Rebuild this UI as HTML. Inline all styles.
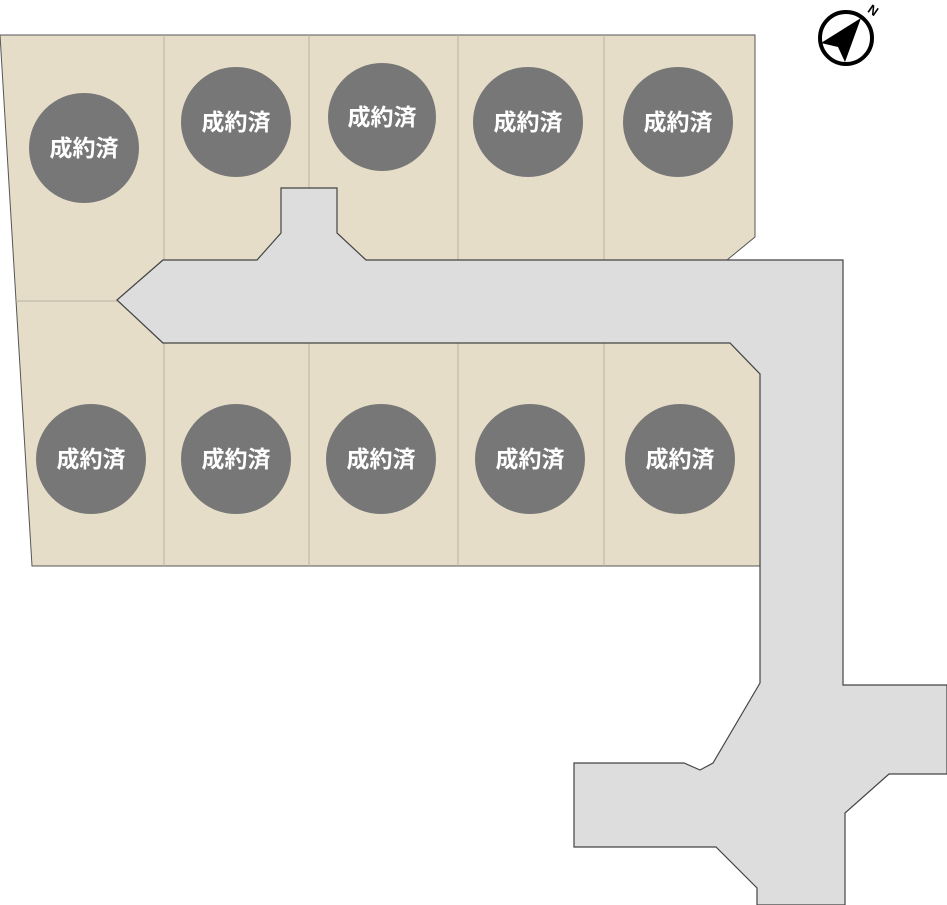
<!DOCTYPE html>
<html><head><meta charset="utf-8"><style>
html,body{margin:0;padding:0;background:#fff;width:947px;height:905px;overflow:hidden}
svg{display:block}
text{font-family:"Liberation Sans","Noto Sans CJK JP",sans-serif;font-weight:bold;font-size:23px;fill:#fff}
</style></head><body>
<svg width="947" height="905" viewBox="0 0 947 905">
<polygon points="0,35 755,35 755,237 727,260 163,260 117,300 163,343 730,343 760,374 760,566 32,566" fill="#e5ddc8" stroke="#555" stroke-width="1"/>
<g stroke="#b8b2a2" stroke-width="1">
<line x1="164" y1="35" x2="164" y2="260"/><line x1="309" y1="35" x2="309" y2="188"/>
<line x1="458" y1="35" x2="458" y2="260"/><line x1="604" y1="35" x2="604" y2="260"/>
<line x1="164" y1="343" x2="164" y2="566"/><line x1="309" y1="343" x2="309" y2="566"/>
<line x1="458" y1="343" x2="458" y2="566"/><line x1="604" y1="343" x2="604" y2="566"/>
<line x1="16" y1="301" x2="117" y2="301"/>
</g>
<polygon points="281,188 337,188 337,233 366,260 843,260 843,685 947,685 947,774 889,774 845,813 845,905 757,905 757,888 716,847 574,847 574,763 684,763 700,770 713,763 760,683 760,374 730,343 163,343 117,300 163,260 257,260 281,233" fill="#dcdddc" stroke="#444" stroke-width="1.2"/>
<g fill="#777">
<circle cx="84" cy="148" r="55"/><circle cx="236" cy="122" r="55"/><circle cx="382" cy="117" r="54"/><circle cx="528" cy="122" r="55"/><circle cx="678" cy="122" r="55"/>
<circle cx="91" cy="459" r="55"/><circle cx="236" cy="459" r="55"/><circle cx="381" cy="459" r="55"/><circle cx="530" cy="459" r="55"/><circle cx="680" cy="459" r="55"/>
</g>
<g text-anchor="middle">
<text x="84" y="156">成約済</text><text x="236" y="130">成約済</text><text x="382" y="125">成約済</text><text x="528" y="130">成約済</text><text x="678" y="130">成約済</text>
<text x="91" y="467">成約済</text><text x="236" y="467">成約済</text><text x="381" y="467">成約済</text><text x="530" y="467">成約済</text><text x="680" y="467">成約済</text>
</g>
<circle cx="846" cy="38" r="26" fill="none" stroke="#000" stroke-width="4"/>
<polygon points="861,18 821,43 838,47 845,62" fill="#000"/>
<text x="869" y="12" style="fill:#000;font-size:13px" transform="rotate(35 869 8)">N</text>
</svg>
</body></html>
